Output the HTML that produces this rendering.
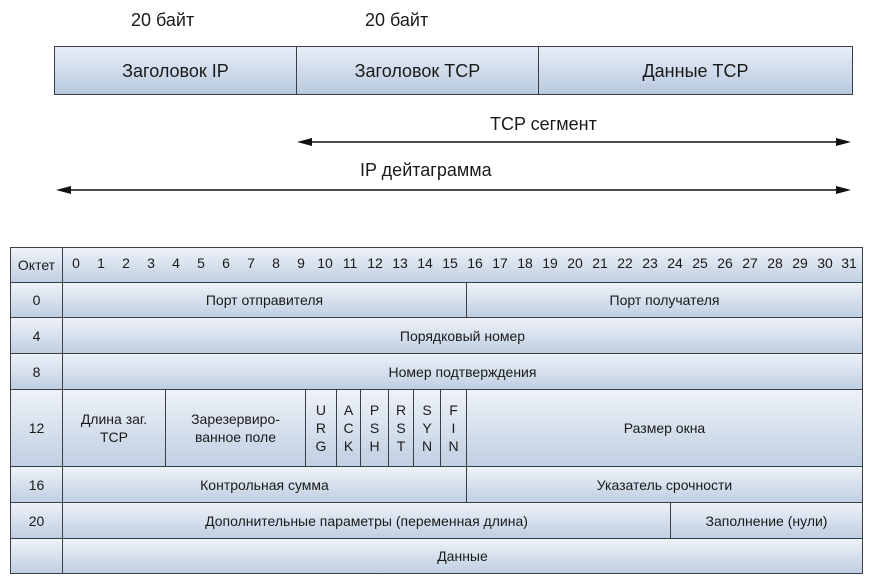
<!DOCTYPE html>
<html><head><meta charset="utf-8"><style>
body{margin:0;width:871px;height:583px;background:#fff;position:relative;overflow:hidden;font-family:"Liberation Sans",sans-serif;color:#1a1a1a}
.c{position:absolute;box-sizing:border-box;border:1px solid #3a3f47;background:linear-gradient(#eef2f8,#c0cfe2);display:flex;align-items:center;justify-content:center;text-align:center;font-size:14px;line-height:14px}
.t{position:absolute;font-size:18px;white-space:nowrap}
.n{position:absolute;top:255px;font-size:14px;width:24px;text-align:center}
</style></head><body>
<div class="t" style="left:131px;top:10px">20 байт</div>
<div class="t" style="left:365px;top:10px">20 байт</div>
<div class="c" style="left:54px;top:46px;width:243px;height:49px;font-size:18px;line-height:18px;background:linear-gradient(#e8eef7,#b8c9df)">Заголовок IP</div>
<div class="c" style="left:296px;top:46px;width:243px;height:49px;font-size:18px;line-height:18px;background:linear-gradient(#e8eef7,#b8c9df)">Заголовок TCP</div>
<div class="c" style="left:538px;top:46px;width:315px;height:49px;font-size:18px;line-height:18px;background:linear-gradient(#e8eef7,#b8c9df)">Данные TCP</div>
<div class="t" style="left:490px;top:114px">TCP сегмент</div>
<div class="t" style="left:360px;top:160px">IP дейтаграмма</div>
<svg style="position:absolute;left:0;top:0" width="871" height="240">
<line x1="305" y1="142" x2="842" y2="142" stroke="#111" stroke-width="1.5"/>
<polygon points="297,142 312,138 312,146" fill="#111"/><polygon points="851,142 836,138 836,146" fill="#111"/>
<line x1="64" y1="190" x2="842" y2="190" stroke="#111" stroke-width="1.5"/>
<polygon points="56,190 71,186 71,194" fill="#111"/><polygon points="851,190 836,186 836,194" fill="#111"/>
</svg>
<div class="c" style="left:10px;top:247px;width:53px;height:36px">Октет</div>
<div class="c" style="left:62px;top:247px;width:801px;height:36px"></div>
<div class="c" style="left:10px;top:282px;width:53px;height:36px">0</div>
<div class="c" style="left:62px;top:282px;width:405px;height:36px">Порт отправителя</div>
<div class="c" style="left:466px;top:282px;width:397px;height:36px">Порт получателя</div>
<div class="c" style="left:10px;top:317px;width:53px;height:37px">4</div>
<div class="c" style="left:62px;top:317px;width:801px;height:37px">Порядковый номер</div>
<div class="c" style="left:10px;top:353px;width:53px;height:37px">8</div>
<div class="c" style="left:62px;top:353px;width:801px;height:37px">Номер подтверждения</div>
<div class="c" style="left:10px;top:389px;width:53px;height:78px">12</div>
<div class="c" style="left:62px;top:389px;width:104px;height:78px;line-height:18px">Длина заг.<br>TCP</div>
<div class="c" style="left:165px;top:389px;width:141px;height:78px;line-height:18px">Зарезервиро-<br>ванное поле</div>
<div class="c" style="left:305px;top:389px;width:32px;height:78px;line-height:18px">U<br>R<br>G</div>
<div class="c" style="left:336px;top:389px;width:25px;height:78px;line-height:18px">A<br>C<br>K</div>
<div class="c" style="left:360px;top:389px;width:29px;height:78px;line-height:18px">P<br>S<br>H</div>
<div class="c" style="left:388px;top:389px;width:26px;height:78px;line-height:18px">R<br>S<br>T</div>
<div class="c" style="left:413px;top:389px;width:28px;height:78px;line-height:18px">S<br>Y<br>N</div>
<div class="c" style="left:440px;top:389px;width:27px;height:78px;line-height:18px">F<br>I<br>N</div>
<div class="c" style="left:466px;top:389px;width:397px;height:78px">Размер окна</div>
<div class="c" style="left:10px;top:466px;width:53px;height:37px">16</div>
<div class="c" style="left:62px;top:466px;width:405px;height:37px">Контрольная сумма</div>
<div class="c" style="left:466px;top:466px;width:397px;height:37px">Указатель срочности</div>
<div class="c" style="left:10px;top:502px;width:53px;height:37px">20</div>
<div class="c" style="left:62px;top:502px;width:609px;height:37px">Дополнительные параметры (переменная длина)</div>
<div class="c" style="left:670px;top:502px;width:193px;height:37px">Заполнение (нули)</div>
<div class="c" style="left:10px;top:538px;width:53px;height:36px"></div>
<div class="c" style="left:62px;top:538px;width:801px;height:36px">Данные</div>
<div class="n" style="left:64px">0</div><div class="n" style="left:89px">1</div><div class="n" style="left:114px">2</div><div class="n" style="left:139px">3</div><div class="n" style="left:164px">4</div><div class="n" style="left:189px">5</div><div class="n" style="left:214px">6</div><div class="n" style="left:239px">7</div><div class="n" style="left:264px">8</div><div class="n" style="left:289px">9</div><div class="n" style="left:313px">10</div><div class="n" style="left:338px">11</div><div class="n" style="left:363px">12</div><div class="n" style="left:388px">13</div><div class="n" style="left:413px">14</div><div class="n" style="left:438px">15</div><div class="n" style="left:463px">16</div><div class="n" style="left:488px">17</div><div class="n" style="left:513px">18</div><div class="n" style="left:538px">19</div><div class="n" style="left:563px">20</div><div class="n" style="left:588px">21</div><div class="n" style="left:613px">22</div><div class="n" style="left:638px">23</div><div class="n" style="left:663px">24</div><div class="n" style="left:688px">25</div><div class="n" style="left:713px">26</div><div class="n" style="left:738px">27</div><div class="n" style="left:763px">28</div><div class="n" style="left:788px">29</div><div class="n" style="left:813px">30</div><div class="n" style="left:837px">31</div>
</body></html>
